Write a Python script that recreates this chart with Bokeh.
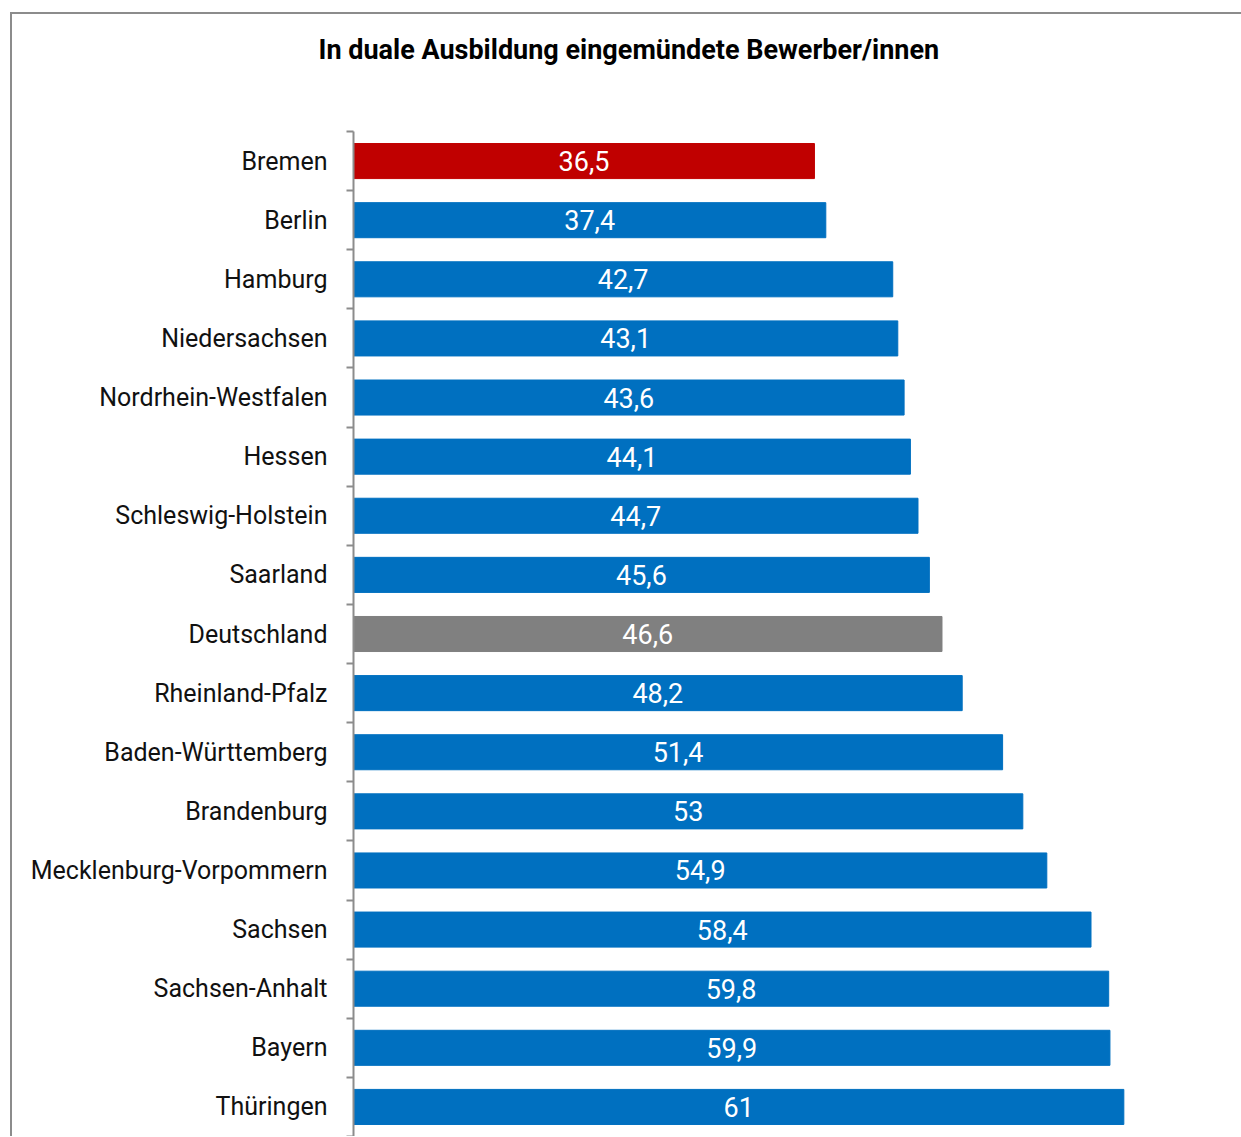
from bokeh.plotting import figure
from bokeh.models import Range1d, FixedTicker, ColumnDataSource, Title
from bokeh.core.properties import value
from bokeh.embed import file_html
from bokeh.resources import INLINE

title_text = "In duale Ausbildung eingemündete Bewerber/innen"
categories = ["Bremen", "Berlin", "Hamburg", "Niedersachsen", "Nordrhein-Westfalen",
              "Hessen", "Schleswig-Holstein", "Saarland", "Deutschland", "Rheinland-Pfalz",
              "Baden-Württemberg", "Brandenburg", "Mecklenburg-Vorpommern", "Sachsen",
              "Sachsen-Anhalt", "Bayern", "Thüringen"]
values = [36.5, 37.4, 42.7, 43.1, 43.6, 44.1, 44.7, 45.6, 46.6, 48.2,
          51.4, 53, 54.9, 58.4, 59.8, 59.9, 61]
value_labels = ["36,5", "37,4", "42,7", "43,1", "43,6", "44,1", "44,7", "45,6", "46,6",
                "48,2", "51,4", "53", "54,9", "58,4", "59,8", "59,9", "61"]

BLUE = "#0070C0"
RED = "#C00000"
GREY = "#808080"
colors = [RED if c == "Bremen" else GREY if c == "Deutschland" else BLUE for c in categories]

n = len(categories)
pos = list(range(n))
src = ColumnDataSource(dict(y=pos, v=values, half=[v / 2 for v in values],
                            lab=value_labels, color=colors))

FONT = "Roboto"

p = figure(frame_width=884, frame_height=1005,
           min_border_left=341, min_border_top=117, min_border_bottom=0, min_border_right=4,
           x_range=Range1d(0, 70), y_range=Range1d(n - 0.5, -0.5),
           x_axis_location=None, toolbar_location=None, output_backend="svg",
           styles={"margin-left": "10px", "margin-top": "12px",
                   "border-left": "2px solid #8c8c8c", "border-top": "2px solid #8c8c8c"})
p.outline_line_color = None
p.grid.visible = False
p.background_fill_color = "white"
p.border_fill_color = "white"

p.hbar(y="y", left=0, right="v", height=0.593, color="color", source=src)
p.text(x="half", y="y", text="lab", source=src, text_color="white",
       text_align="center", text_baseline="middle",
       text_font=value(FONT), text_font_size="27px")

ax = p.yaxis[0]
ax.ticker = FixedTicker(ticks=pos, minor_ticks=[i - 0.5 for i in range(n + 1)])
ax.major_label_overrides = {i: c for i, c in enumerate(categories)}
ax.major_tick_out = 0
ax.major_tick_in = 0
ax.minor_tick_out = 7
ax.minor_tick_in = 0
ax.minor_tick_line_color = "#8c8c8c"
ax.minor_tick_line_width = 2
ax.axis_line_color = "#8c8c8c"
ax.axis_line_width = 2
ax.major_label_standoff = 19
ax.major_label_text_font = FONT
ax.major_label_text_font_size = "25px"
ax.major_label_text_color = "#111111"

# spacer between frame and title
p.add_layout(Title(text=" ", text_font_size="10px", standoff=52), "above")
p.add_layout(Title(text=title_text, align="left", offset=-35, standoff=0,
                   vertical_align="middle", text_font=FONT, text_font_size="27px",
                   text_font_style="bold", text_color="black"), "above")

open("out.html", "w").write(file_html(p, INLINE))
